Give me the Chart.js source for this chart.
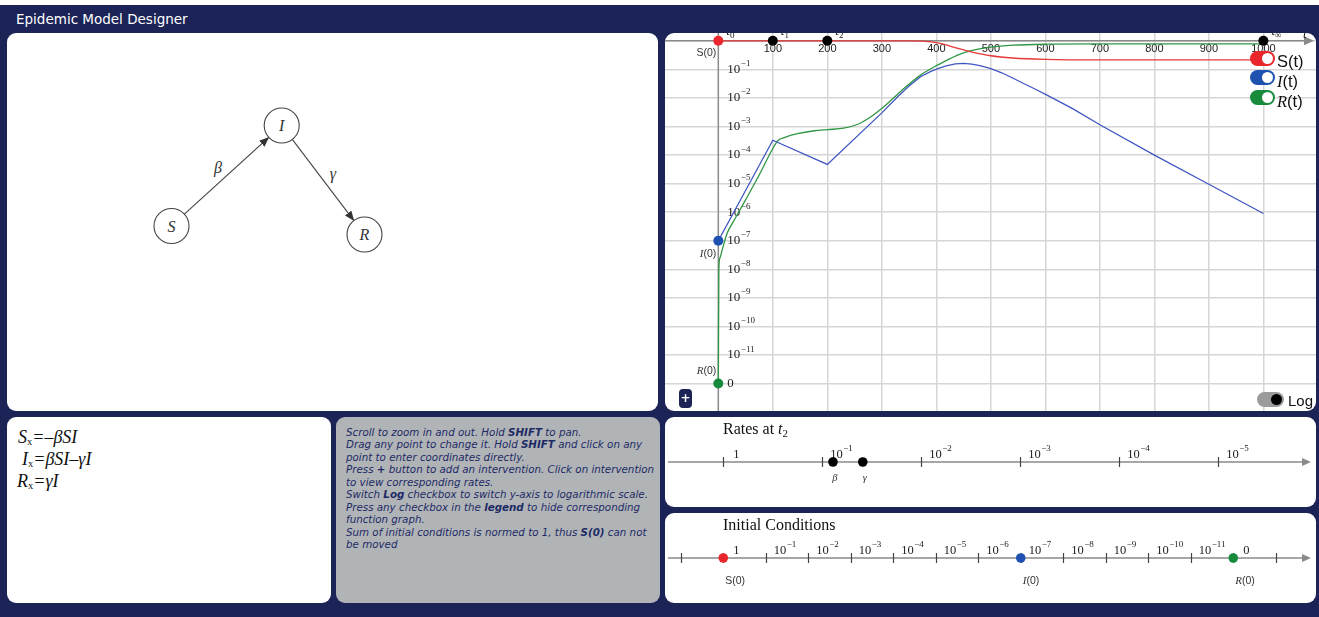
<!DOCTYPE html>
<html>
<head>
<meta charset="utf-8">
<title>Epidemic Model Designer</title>
<script src="https://cdn.jsdelivr.net/npm/chart.js@4.4.1/dist/chart.umd.min.js"></script>
<style>
  html, body { margin: 0; padding: 0; width: 1319px; height: 617px; overflow: hidden; background: #fff; }
  #app { position: absolute; left: 0; top: 0; width: 1319px; height: 617px; background: #1b2357; }
  #strip { position: absolute; left: 0; top: 0; width: 1319px; height: 5px; background: #fff; }
  #title { position: absolute; left: 16px; top: 11px; height: 16px; line-height: 16px; color: #fff;
           font: 13.5px "DejaVu Sans", Verdana, sans-serif; }
  .panel { position: absolute; background: #fff; border-radius: 9px; overflow: hidden; }
  #diagram { left: 7px; top: 33px; width: 651px; height: 378px; }
  #plot { left: 665px; top: 33px; width: 651px; height: 378px; }
  #eqs { left: 7px; top: 417px; width: 324px; height: 186px; }
  #help { left: 336px; top: 417px; width: 324px; height: 186px; background: #b1b4b7; }
  #rates { left: 665px; top: 417px; width: 651px; height: 90px; }
  #inits { left: 665px; top: 513px; width: 651px; height: 90px; }
  canvas { position: absolute; left: 0; top: 0; }

  .eq { position: absolute; font: italic 18px "Liberation Serif", serif; color: #111; white-space: nowrap; line-height: 22px; }
  .eq sub { font-style: normal; font-size: 10.5px; vertical-align: -2px; }

  #helptext { position: absolute; left: 10px; top: 9px; white-space: nowrap; color: #1d2a66;
              font: italic 10.3px/12.45px "DejaVu Sans", Verdana, sans-serif; }
  #helptext b { font-weight: bold; }

  .sw { position: absolute; width: 25px; height: 15px; border-radius: 8px; }
  .sw::after { content: ''; position: absolute; right: 2px; top: 2px; width: 11px; height: 11px; border-radius: 50%; background: #fff; }
  .swlabel { position: absolute; font: 16.5px "Liberation Sans", Arial, sans-serif; color: #111; line-height: 20px; }
  .swlabel i { font-family: "Liberation Serif", serif; }
  #logsw { position: absolute; left: 592px; top: 359px; width: 27px; height: 15px; border-radius: 8px; background: #9b9b9b; }
  #logsw::after { content: ''; position: absolute; right: 2px; top: 2px; width: 11px; height: 11px; border-radius: 50%; background: #000; }
  #loglabel { position: absolute; left: 623px; top: 358px; font: 15px "Liberation Sans", Arial, sans-serif; color: #111; line-height: 20px; }
  #addbtn { position: absolute; left: 14px; top: 356px; width: 13px; height: 19px; border-radius: 4px; background: #1b2357;
            color: #fff; font: bold 12px/19px "DejaVu Sans", sans-serif; text-align: center; }

  .nltitle { position: absolute; left: 58px; top: 2px; font: 16px "Liberation Serif", serif; color: #111; line-height: 20px; }
  .nltitle sub { font-size: 11px; vertical-align: -3px; }
</style>
</head>
<body>
<div id="app">
  <div id="strip"></div>
  <div id="title">Epidemic Model Designer</div>

  <div class="panel" id="diagram">
    <svg width="651" height="378" xmlns="http://www.w3.org/2000/svg">
      <defs>
        <marker id="head" markerWidth="10" markerHeight="8" refX="9.5" refY="4" orient="auto" markerUnits="userSpaceOnUse">
          <path d="M0,0 L10,4 L0,8 z" fill="#333"/>
        </marker>
      </defs>
      <g stroke="#444" stroke-width="1.1" fill="none">
        <line x1="177.4" y1="181.2" x2="261.8" y2="104.3" marker-end="url(#head)"/>
        <line x1="285.3" y1="106.4" x2="346.9" y2="187.6" marker-end="url(#head)"/>
        <circle cx="164.5" cy="193" r="17.5" fill="#fff"/>
        <circle cx="274.7" cy="92.5" r="17.5" fill="#fff"/>
        <circle cx="357.5" cy="201.5" r="17.5" fill="#fff"/>
      </g>
      <g font-family="Liberation Serif, serif" font-style="italic" font-size="16" fill="#333" text-anchor="middle" dominant-baseline="central">
        <text x="164.5" y="193">S</text>
        <text x="274.7" y="92.5">I</text>
        <text x="357.5" y="201.5">R</text>
        <text x="211" y="134">β</text>
        <text x="326" y="140">γ</text>
      </g>
    </svg>
  </div>

  <div class="panel" id="plot">
    <canvas id="mainChart" width="651" height="378"></canvas>
    <div class="sw" style="left:585px;top:18px;background:#e8262c"></div>
    <div class="swlabel" style="left:612px;top:18px">S(t)</div>
    <div class="sw" style="left:585px;top:37px;background:#1f52b0"></div>
    <div class="swlabel" style="left:612px;top:38px"><i>I</i>(t)</div>
    <div class="sw" style="left:585px;top:57px;background:#178a3c"></div>
    <div class="swlabel" style="left:612px;top:58px"><i>R</i>(t)</div>
    <div id="logsw"></div>
    <div id="loglabel">Log</div>
    <div id="addbtn">+</div>
  </div>

  <div class="panel" id="eqs">
    <div class="eq" style="left:11px;top:9px">S<sub>x</sub>=–βSI</div>
    <div class="eq" style="left:15px;top:31px">I<sub>x</sub>=βSI–γI</div>
    <div class="eq" style="left:10px;top:53px">R<sub>x</sub>=γI</div>
  </div>

  <div class="panel" id="help">
    <div id="helptext">Scroll to zoom in and out. Hold <b>SHIFT</b> to pan.<br>Drag any point to change it. Hold <b>SHIFT</b> and click on any<br>point to enter coordinates directly.<br>Press <b>+</b> button to add an intervention. Click on intervention<br>to view corresponding rates.<br>Switch <b>Log</b> checkbox to switch y-axis to logarithmic scale.<br>Press any checkbox in the <b>legend</b> to hide corresponding<br>function graph.<br>Sum of initial conditions is normed to 1, thus <b>S(0)</b> can not<br>be moved</div>
  </div>

  <div class="panel" id="rates">
    <canvas id="ratesChart" width="651" height="90"></canvas>
    <div class="nltitle">Rates at <i>t</i><sub>2</sub></div>
  </div>

  <div class="panel" id="inits">
    <canvas id="initChart" width="651" height="90"></canvas>
    <div class="nltitle">Initial Conditions</div>
  </div>
</div>

<script>
// zero has no place on a log axis, so it sits one decade under 1e-11
const ZERO_AT = 1e-12;

// solution curves
const sTimes = [0, 350, 380, 400, 420, 438, 462, 500, 540, 600, 700, 1000];
const sValues = [1, 0.99, 0.955, 0.86, 0.70, 0.55, 0.42, 0.30, 0.25, 0.224, 0.215, 0.215];

const iTimes = [0, 100, 200, 300, 330, 350, 371, 390, 405, 420, 435, 450, 465, 480, 500, 520, 540, 560, 580, 603, 650, 700, 800, 900, 1000];
const iValues = [1e-7, 3.3e-4, 4.7e-5, 3.0e-3, 0.0115, 0.026, 0.055, 0.085, 0.11, 0.135, 0.155, 0.162, 0.153, 0.135, 0.106, 0.076, 0.05, 0.032, 0.021, 0.0126, 4.2e-3, 1.15e-3, 1.0e-4, 9.5e-6, 9e-7];

const rTimes = [0, 1, 3, 7, 16, 29, 50, 75, 100, 110, 121, 145, 176, 200, 230, 256, 280, 302, 334, 371, 402, 438, 462, 500, 541, 603, 700, 1000];
const rValues = [0, 1e-8, 2.5e-8, 4.7e-8, 1.8e-7, 5.2e-7, 2.7e-6, 2.0e-5, 1.7e-4, 3.3e-4, 4.1e-4, 5.6e-4, 7.1e-4, 7.8e-4, 8.7e-4, 1.2e-3, 2.2e-3, 4.6e-3, 0.0166, 0.063, 0.14, 0.31, 0.44, 0.6, 0.7, 0.76, 0.78, 0.785];

// interventions on the time axis
const interventionTimes = [0, 100, 200, 1000];
const interventionNames = ['0', '1', '2', '∞'];

// axis ticks
const timeTicks = [100, 200, 300, 400, 500, 600, 700, 800, 900, 1000];
const decadeExponents = [1, 2, 3, 4, 5, 6, 7, 8, 9, 10, 11];

// rates at t2
const rateNames = ['β', 'γ'];
const rateValues = [0.078, 0.039];
const rateTickExponents = [0, 1, 2, 3, 4, 5];

// initial conditions
const initNames = ['S(0)', 'I(0)', 'R(0)'];
const initValues = [1, 1e-7, 0];
const initTickExponents = [-1, 0, 1, 2, 3, 4, 5, 6, 7, 8, 9, 10, 11, 12, 13];
const initLabelExponents = [0, 1, 2, 3, 4, 5, 6, 7, 8, 9, 10, 11, 12];

const RED = '#e8262c', BLUE = '#1f52b0', GREEN = '#178a3c';
const SERIF = '"Liberation Serif", serif';
const SANS = '"Liberation Sans", Arial, sans-serif';

const clampZero = v => (v <= 0 ? ZERO_AT : v);
const toPoints = (ts, vs) => ts.map((t, i) => ({ x: t, y: clampZero(vs[i]) }));

// "10" with a raised negative exponent
function drawPow(ctx, exp, x, y, size, color) {
  ctx.fillStyle = color;
  ctx.textAlign = 'left';
  ctx.textBaseline = 'middle';
  ctx.font = size + 'px ' + SERIF;
  ctx.fillText('10', x, y);
  const w = ctx.measureText('10').width;
  ctx.font = Math.round(size * 0.68) + 'px ' + SERIF;
  ctx.fillText('\u2212' + exp, x + w + 0.5, y - size * 0.45);
}

// label like S(0) / I(0) where the letter may be italic serif
function drawVarLabel(ctx, name, x, y, align) {
  const letter = name[0], rest = name.slice(1);
  const italic = letter !== 'S';
  const f1 = italic ? 'italic 11px ' + SERIF : '10.5px ' + SANS;
  const f2 = '10.5px ' + SANS;
  ctx.font = f1; const w1 = ctx.measureText(letter).width;
  ctx.font = f2; const w2 = ctx.measureText(rest).width;
  let x0 = align === 'right' ? x - w1 - w2 : x;
  ctx.textAlign = 'left';
  ctx.textBaseline = 'middle';
  ctx.fillStyle = '#333';
  ctx.font = f1; ctx.fillText(letter, x0, y);
  ctx.font = f2; ctx.fillText(rest, x0 + w1, y);
}

const mainAxes = {
  id: 'mainAxes',
  beforeDatasetsDraw(chart) {
    const { ctx, chartArea: a, scales: { x, y } } = chart;
    const x0 = x.getPixelForValue(0), y1 = y.getPixelForValue(1);
    ctx.save();
    ctx.strokeStyle = '#8a8a8a';
    ctx.lineWidth = 1.5;
    ctx.beginPath();
    ctx.moveTo(x0, a.top); ctx.lineTo(x0, a.bottom);
    ctx.moveTo(a.left, y1); ctx.lineTo(a.right - 8, y1);
    ctx.stroke();
    ctx.fillStyle = '#8a8a8a';
    ctx.beginPath();
    ctx.moveTo(a.right - 2, y1); ctx.lineTo(a.right - 12, y1 - 4.5); ctx.lineTo(a.right - 12, y1 + 4.5);
    ctx.closePath(); ctx.fill();

    // time labels under the axis
    ctx.fillStyle = '#222';
    ctx.font = '11px ' + SANS;
    ctx.textAlign = 'center';
    ctx.textBaseline = 'middle';
    timeTicks.forEach(t => ctx.fillText(String(t), x.getPixelForValue(t), y1 + 8.5));

    // decade labels right of the value axis
    decadeExponents.forEach(e => drawPow(ctx, e, x0 + 9, y.getPixelForValue(Math.pow(10, -e)), 13, '#222'));
    ctx.font = '13px ' + SERIF;
    ctx.textAlign = 'left';
    ctx.fillText('0', x0 + 9, y.getPixelForValue(ZERO_AT));

    // initial value labels
    drawVarLabel(ctx, 'S(0)', x0 - 2, y1 + 12, 'right');
    drawVarLabel(ctx, 'I(0)', x0 - 2, y.getPixelForValue(initValues[1]) + 13, 'right');
    drawVarLabel(ctx, 'R(0)', x0 - 2, y.getPixelForValue(ZERO_AT) - 12, 'right');

    // axis name
    ctx.fillStyle = '#222';
    ctx.font = 'italic 13px ' + SERIF;
    ctx.textBaseline = 'alphabetic';
    ctx.fillText('t', a.right - 13, y1 - 3);
    ctx.restore();
  },
  afterDatasetsDraw(chart) {
    const { ctx, scales: { x, y } } = chart;
    const y1 = y.getPixelForValue(1);
    ctx.save();
    ctx.fillStyle = '#222';
    ctx.textAlign = 'left';
    ctx.textBaseline = 'alphabetic';
    interventionTimes.forEach((t, i) => {
      const px = x.getPixelForValue(t) + 8;
      ctx.font = 'italic 13px ' + SERIF;
      ctx.fillText('t', px, y1 - 6);
      const w = ctx.measureText('t').width;
      ctx.font = '9px ' + SERIF;
      ctx.fillText(interventionNames[i], px + w, y1 - 3);
    });
    ctx.restore();
  }
};

new Chart(document.getElementById('mainChart'), {
  type: 'scatter',
  data: {
    datasets: [
      {
        data: interventionTimes.map(t => ({ x: t, y: 1 })),
        pointRadius: 5, pointHoverRadius: 5, borderWidth: 0,
        backgroundColor: interventionTimes.map((t, i) => (i === 0 ? RED : '#000'))
      },
      {
        data: [{ x: 0, y: initValues[1] }, { x: 0, y: clampZero(initValues[2]) }],
        pointRadius: 5, pointHoverRadius: 5, borderWidth: 0,
        backgroundColor: [BLUE, GREEN]
      },
      {
        label: 'S(t)', data: toPoints(sTimes, sValues), showLine: true,
        borderColor: '#e83838', borderWidth: 1.3, pointRadius: 0, cubicInterpolationMode: 'monotone'
      },
      {
        label: 'I(t)', data: toPoints(iTimes, iValues), showLine: true,
        borderColor: '#4057c2', borderWidth: 1.3, pointRadius: 0, tension: 0
      },
      {
        label: 'R(t)', data: toPoints(rTimes, rValues), showLine: true,
        borderColor: '#2f9644', borderWidth: 1.3, pointRadius: 0, cubicInterpolationMode: 'monotone'
      }
    ]
  },
  options: {
    responsive: false,
    animation: false,
    layout: { padding: 0, autoPadding: false },
    plugins: { legend: { display: false }, tooltip: { enabled: false } },
    scales: {
      x: {
        type: 'linear', min: -97.8, max: 1096.5,
        afterBuildTicks: s => { s.ticks = timeTicks.map(v => ({ value: v })); },
        ticks: { display: false },
        border: { display: false },
        grid: { color: '#d6d6d6', lineWidth: 1.5, drawTicks: false }
      },
      y: {
        type: 'logarithmic', min: Math.pow(10, -12.96), max: 1.875,
        afterBuildTicks: s => {
          s.ticks = [0].concat(decadeExponents, [12]).map(e => ({ value: Math.pow(10, -e) }));
        },
        ticks: { display: false },
        border: { display: false },
        grid: { color: '#d6d6d6', lineWidth: 1.5, drawTicks: false }
      }
    }
  },
  plugins: [mainAxes]
});

// plain number line with decade ticks, drawn under the points
function numberLine(tickExps, labelExps, zeroExp) {
  return {
    id: 'numberLine',
    beforeDatasetsDraw(chart) {
      const { ctx, chartArea: a, scales: { x, y } } = chart;
      const ly = y.getPixelForValue(0);
      ctx.save();
      ctx.strokeStyle = '#8a8a8a';
      ctx.lineWidth = 1.5;
      ctx.beginPath();
      ctx.moveTo(a.left + 3, ly); ctx.lineTo(a.right - 10, ly);
      ctx.stroke();
      ctx.fillStyle = '#8a8a8a';
      ctx.beginPath();
      ctx.moveTo(a.right - 5, ly); ctx.lineTo(a.right - 14, ly - 4); ctx.lineTo(a.right - 14, ly + 4);
      ctx.closePath(); ctx.fill();

      ctx.strokeStyle = '#444';
      ctx.lineWidth = 1.2;
      ctx.beginPath();
      tickExps.forEach(e => {
        const px = Math.round(x.getPixelForValue(Math.pow(10, -e))) + 0.5;
        ctx.moveTo(px, ly - 5); ctx.lineTo(px, ly + 5);
      });
      ctx.stroke();

      labelExps.forEach(e => {
        const px = x.getPixelForValue(Math.pow(10, -e)) + 8;
        if (e === 0 || e === zeroExp) {
          ctx.fillStyle = '#222';
          ctx.font = '12.5px ' + SERIF;
          ctx.textAlign = 'left';
          ctx.textBaseline = 'middle';
          ctx.fillText(e === 0 ? '1' : '0', px + 2, ly - 7.5);
        } else {
          drawPow(ctx, e, px, ly - 7.5, 12.5, '#222');
        }
      });
      ctx.restore();
    }
  };
}

const pointNames = {
  id: 'pointNames',
  afterDatasetsDraw(chart) {
    const { ctx, scales: { x, y } } = chart;
    const ly = y.getPixelForValue(0);
    const ds = chart.data.datasets[0];
    ctx.save();
    ds.data.forEach((p, i) => {
      const px = x.getPixelForValue(p.x);
      const name = ds.names[i];
      if (name.length === 1) {
        ctx.fillStyle = '#333';
        ctx.font = 'italic 10.5px ' + SERIF;
        ctx.textAlign = 'center';
        ctx.textBaseline = 'middle';
        ctx.fillText(name, px + 2, ly + 16);
      } else {
        drawVarLabel(ctx, name, px + 2, ly + 23, 'left');
      }
    });
    ctx.restore();
  }
};

function lineOptions(minV, maxV) {
  return {
    responsive: false,
    animation: false,
    layout: { padding: 0, autoPadding: false },
    plugins: { legend: { display: false }, tooltip: { enabled: false } },
    scales: {
      x: { type: 'logarithmic', reverse: true, min: minV, max: maxV, display: false },
      y: { type: 'linear', min: -1, max: 1, display: false }
    }
  };
}

new Chart(document.getElementById('ratesChart'), {
  type: 'scatter',
  data: {
    datasets: [{
      data: rateValues.map(v => ({ x: v, y: 0 })),
      names: rateNames,
      pointRadius: 4.8, pointHoverRadius: 4.8, borderWidth: 0,
      backgroundColor: '#000'
    }]
  },
  options: lineOptions(1.03e-6, 3.88),
  plugins: [numberLine(rateTickExponents, rateTickExponents, null), pointNames]
});

new Chart(document.getElementById('initChart'), {
  type: 'scatter',
  data: {
    datasets: [{
      data: initValues.map(v => ({ x: clampZero(v), y: 0 })),
      names: initNames,
      pointRadius: 4.8, pointHoverRadius: 4.8, borderWidth: 0,
      backgroundColor: [RED, BLUE, GREEN]
    }]
  },
  options: lineOptions(1.13e-14, 23.5),
  plugins: [numberLine(initTickExponents, initLabelExponents, 12), pointNames]
});
</script>
</body>
</html>
